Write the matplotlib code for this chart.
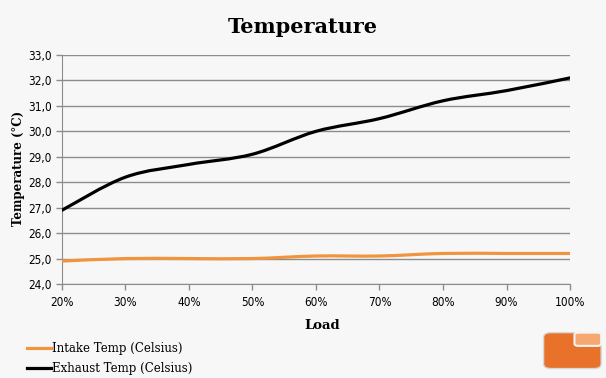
import matplotlib
matplotlib.use("Agg")
import matplotlib.pyplot as plt
import numpy as np
from matplotlib.path import Path
from matplotlib.patches import PathPatch, FancyBboxPatch
from matplotlib.lines import Line2D
from matplotlib.ticker import FuncFormatter

loads = [20, 30, 40, 50, 60, 70, 80, 90, 100]
intake = [24.9, 25.0, 25.0, 25.0, 25.1, 25.1, 25.2, 25.2, 25.2]
exhaust = [26.9, 28.2, 28.7, 29.1, 30.0, 30.5, 31.2, 31.6, 32.1]
y_ticks = [24, 25, 26, 27, 28, 29, 30, 31, 32, 33]

BG = "#f7f7f7"
ORANGE = "#f0953e"


def smooth_path(xs, ys):
    # excel-like smoothed line: bezier segments with catmull-rom control points
    xs = np.asarray(xs, float)
    ys = np.asarray(ys, float)
    verts = [(xs[0], ys[0])]
    codes = [Path.MOVETO]
    n = len(xs)
    for i in range(n - 1):
        x0, y0 = (xs[i - 1], ys[i - 1]) if i > 0 else (xs[i], ys[i])
        x3, y3 = (xs[i + 2], ys[i + 2]) if i + 2 < n else (xs[i + 1], ys[i + 1])
        c1 = (xs[i] + (xs[i + 1] - x0) / 6, ys[i] + (ys[i + 1] - y0) / 6)
        c2 = (xs[i + 1] - (x3 - xs[i]) / 6, ys[i + 1] - (y3 - ys[i]) / 6)
        verts += [c1, c2, (xs[i + 1], ys[i + 1])]
        codes += [Path.CURVE4] * 3
    return Path(verts, codes)


fig = plt.figure(figsize=(6.06, 3.78), dpi=100, facecolor=BG)
ax = fig.add_axes([0.1023, 0.2487, 0.8383, 0.6058], facecolor=BG)

for vals, col in [(intake, ORANGE), (exhaust, "black")]:
    ax.add_patch(PathPatch(smooth_path(loads, vals), facecolor="none",
                           edgecolor=col, lw=2.3, capstyle="round", zorder=3))

ax.set_xlim(20, 100)
ax.set_ylim(24, 33)
ax.set_xticks(loads)
ax.set_yticks(y_ticks)
ax.xaxis.set_major_formatter(FuncFormatter(lambda v, p: "%d%%" % v))
ax.yaxis.set_major_formatter(FuncFormatter(lambda v, p: ("%.1f" % v).replace(".", ",")))
ax.yaxis.grid(True, color="#8c8c8c", lw=1)
ax.set_axisbelow(True)
for s in ["top", "right"]:
    ax.spines[s].set_visible(False)
for s in ["left", "bottom"]:
    ax.spines[s].set_color("#8c8c8c")
ax.tick_params(colors="#8c8c8c", length=4, width=1, labelcolor="black",
               labelsize=8.5, direction="out")
ax.tick_params(axis="x", pad=5)
for lab in ax.get_xticklabels() + ax.get_yticklabels():
    lab.set_family("DejaVu Sans")
    lab.set_stretch("condensed")

fig.text(0.5, 0.928, "Temperature", ha="center", va="center",
         family="DejaVu Serif", weight="bold", fontsize=15)
fig.text(0.532, 0.138, "Load", ha="center", va="center",
         family="DejaVu Serif", weight="bold", fontsize=9.5)
fig.text(0.03, 0.555, "Temperature (°C)", ha="center", va="center", rotation=90,
         family="DejaVu Serif", weight="bold", fontsize=8.5)

handles = [Line2D([], [], color=ORANGE, lw=2.3), Line2D([], [], color="black", lw=2.3)]
fig.legend(handles, ["Intake Temp (Celsius)", "Exhaust Temp (Celsius)"],
           loc="lower left", bbox_to_anchor=(0.027, -0.02), frameon=False,
           handlelength=2.0, handletextpad=0.15, labelspacing=0.55,
           prop={"family": "DejaVu Serif", "size": 8.5})

# logo-ish badge in the corner
fig.patches.append(FancyBboxPatch((0.897, 0.025), 0.095, 0.095, boxstyle="round,pad=0,rounding_size=0.012",
                                  transform=fig.transFigure, facecolor="#e8722a", edgecolor="#d8d8d8", lw=1))
fig.patches.append(FancyBboxPatch((0.948, 0.085), 0.044, 0.035, boxstyle="round,pad=0,rounding_size=0.006",
                                  transform=fig.transFigure, facecolor="#f7a870", edgecolor="#f4f4f4", lw=1.5))

fig.savefig("out.png", dpi=100, facecolor=BG)
